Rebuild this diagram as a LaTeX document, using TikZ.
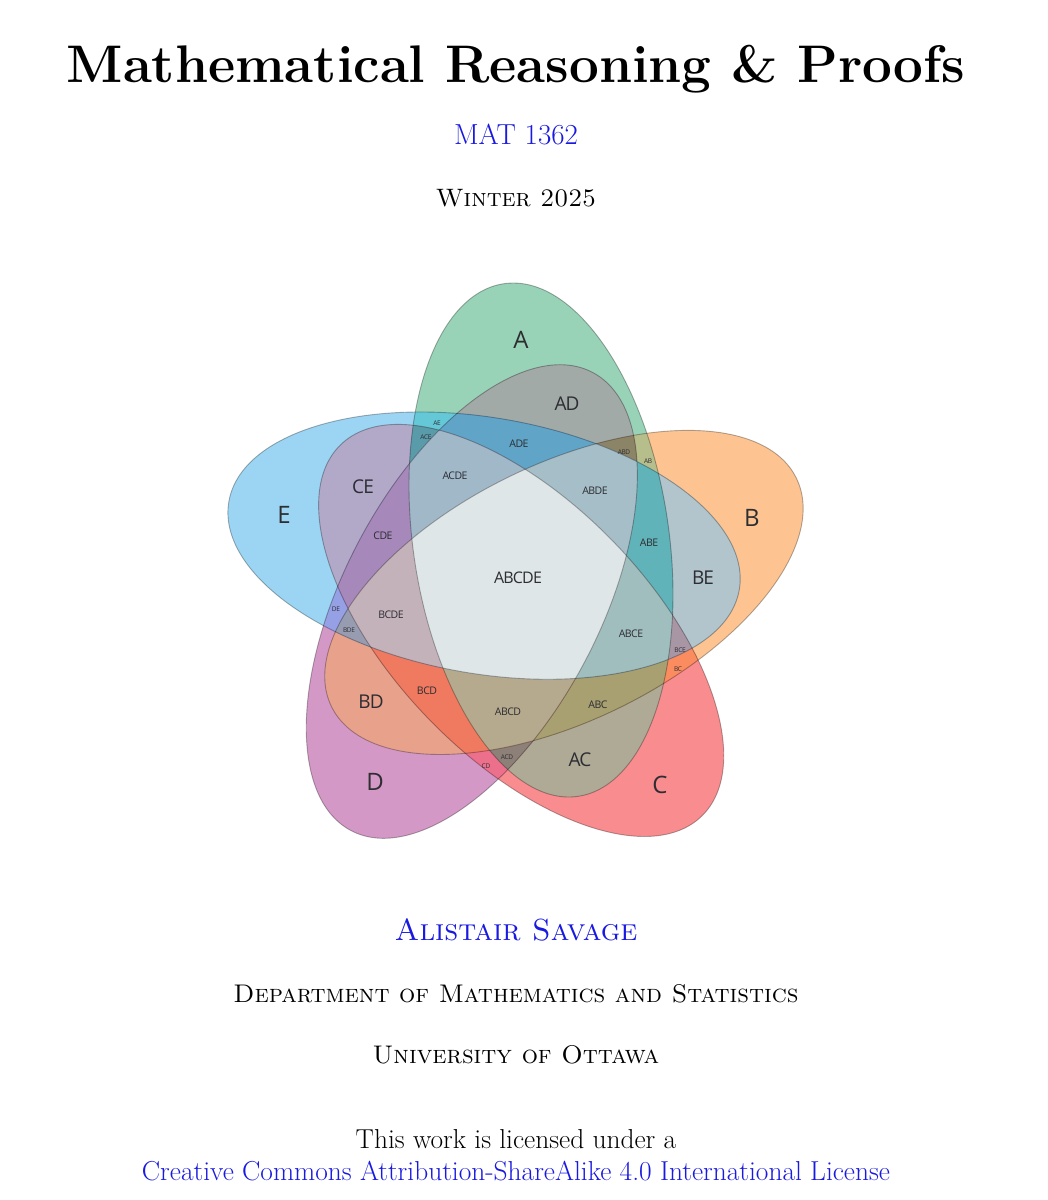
\documentclass[tikz,border=0pt]{standalone}
\usepackage{fontspec}
\newfontfamily\lblfont[LetterSpace=-5]{Open Sans}
\definecolor{linkblue}{RGB}{25,25,225}
\definecolor{lbltext}{RGB}{45,45,50}
\definecolor{cA}{RGB}{152,211,183}
\definecolor{cB}{RGB}{253,196,145}
\definecolor{cC}{RGB}{249,140,142}
\definecolor{cD}{RGB}{212,152,198}
\definecolor{cE}{RGB}{155,213,243}
\definecolor{cAB}{RGB}{182,190,140}
\definecolor{cAC}{RGB}{175,170,150}
\definecolor{cAD}{RGB}{162,170,168}
\definecolor{cAE}{RGB}{100,200,215}
\definecolor{cBC}{RGB}{250,140,95}
\definecolor{cBD}{RGB}{232,162,140}
\definecolor{cBE}{RGB}{178,196,204}
\definecolor{cCD}{RGB}{236,112,140}
\definecolor{cCE}{RGB}{178,168,200}
\definecolor{cDE}{RGB}{150,160,228}
\definecolor{cABC}{RGB}{168,160,112}
\definecolor{cABD}{RGB}{140,132,102}
\definecolor{cABE}{RGB}{96,180,185}
\definecolor{cACD}{RGB}{140,128,120}
\definecolor{cACE}{RGB}{90,155,170}
\definecolor{cADE}{RGB}{96,165,200}
\definecolor{cBCD}{RGB}{240,122,96}
\definecolor{cBCE}{RGB}{168,150,165}
\definecolor{cBDE}{RGB}{152,156,176}
\definecolor{cCDE}{RGB}{166,136,186}
\definecolor{cABCD}{RGB}{182,170,142}
\definecolor{cABCE}{RGB}{160,190,190}
\definecolor{cABDE}{RGB}{165,190,200}
\definecolor{cACDE}{RGB}{160,184,200}
\definecolor{cBCDE}{RGB}{196,178,186}
\definecolor{cABCDE}{RGB}{222,230,232}
\tikzset{
  ell/.style={rotate around={-72*#1:(516.4,-582)},rotate around={8.2:(541,-540)}},
  outl/.style={draw=black,draw opacity=0.3,line width=0.9pt},
  lblbase/.style={inner sep=0pt,text=lbltext},
  lbli/.style={lblbase,font=\lblfont\fontsize{24}{26}\selectfont},
  lblii/.style={lblbase,font=\lblfont\fontsize{19}{21}\selectfont},
  lbliii/.style={lblbase,font=\lblfont\fontsize{10.5}{12}\selectfont},
  lblv/.style={lblbase,font=\lblfont\fontsize{16}{18}\selectfont},
  lbltiny/.style={lblbase,font=\lblfont\fontsize{6.5}{7}\selectfont},
  txt/.style={anchor=base,inner sep=0pt,font=\fontsize{27.4}{32}\selectfont},
  sctxt/.style={anchor=base,inner sep=0pt,font=\fontsize{25.5}{30}\selectfont},
}
\newcommand\clipell[1]{\clip[ell=#1] (541,-540) ellipse [x radius=128, y radius=259];}
\newcommand\fillell[2]{\fill[ell=#1,fill=#2] (541,-540) ellipse [x radius=128, y radius=259];}
\newcommand\regI[2]{\fillell{#1}{#2}}
\newcommand\regII[3]{\begin{scope}\clipell{#1}\fillell{#2}{#3}\end{scope}}
\newcommand\regIII[4]{\begin{scope}\clipell{#1}\clipell{#2}\fillell{#3}{#4}\end{scope}}
\newcommand\regIV[5]{\begin{scope}\clipell{#1}\clipell{#2}\clipell{#3}\fillell{#4}{#5}\end{scope}}
\newcommand\regV[6]{\begin{scope}\clipell{#1}\clipell{#2}\clipell{#3}\clipell{#4}\fillell{#5}{#6}\end{scope}}
\begin{document}
\begin{tikzpicture}[x=1pt,y=1pt]
\useasboundingbox (0,0) rectangle (1048,-1200);
\fill[white] (0,0) rectangle (1048,-1200);
% ---- text ----
\node[txt,font=\fontsize{52.9}{60}\selectfont\bfseries] (title) at (516,-82) {Mathematical Reasoning \& Proofs};
\node[txt,text=linkblue,font=\fontsize{29}{34}\selectfont] (course) at (516,-144) {MAT 1362};
\node[sctxt,font=\fontsize{25.2}{30}\selectfont] (term) at (516,-206) {\textsc{Winter 2025}};
\node[sctxt,text=linkblue,font=\fontsize{30.5}{36}\selectfont] (author) at (516,-940) {\textsc{Alistair Savage}};
\node[sctxt] (dept) at (516,-1002) {\textsc{Department of Mathematics and Statistics}};
\node[sctxt] (univ) at (516,-1063) {\textsc{University of Ottawa}};
\node[txt] (lic1) at (516,-1148) {This work is licensed under a};
\node[txt,text=linkblue] (lic2) at (516,-1180) {Creative Commons Attribution-ShareAlike 4.0 International License};
% ---- regions: A=0 B=1 C=2 D=3 E=4 ----
\regI{0}{cA}\regI{1}{cB}\regI{2}{cC}\regI{3}{cD}\regI{4}{cE}
\regII{0}{1}{cAB}\regII{0}{2}{cAC}\regII{0}{3}{cAD}\regII{0}{4}{cAE}
\regII{1}{2}{cBC}\regII{1}{3}{cBD}\regII{1}{4}{cBE}
\regII{2}{3}{cCD}\regII{2}{4}{cCE}\regII{3}{4}{cDE}
\regIII{0}{1}{2}{cABC}\regIII{0}{1}{3}{cABD}\regIII{0}{1}{4}{cABE}
\regIII{0}{2}{3}{cACD}\regIII{0}{2}{4}{cACE}\regIII{0}{3}{4}{cADE}
\regIII{1}{2}{3}{cBCD}\regIII{1}{2}{4}{cBCE}\regIII{1}{3}{4}{cBDE}
\regIII{2}{3}{4}{cCDE}
\regIV{0}{1}{2}{3}{cABCD}\regIV{0}{1}{2}{4}{cABCE}\regIV{0}{1}{3}{4}{cABDE}
\regIV{0}{2}{3}{4}{cACDE}\regIV{1}{2}{3}{4}{cBCDE}
\regV{0}{1}{2}{3}{4}{cABCDE}
% ---- outlines ----
\draw[ell=0,outl] (541,-540) ellipse [x radius=128, y radius=259];
\draw[ell=1,outl] (541,-540) ellipse [x radius=128, y radius=259];
\draw[ell=2,outl] (541,-540) ellipse [x radius=128, y radius=259];
\draw[ell=3,outl] (541,-540) ellipse [x radius=128, y radius=259];
\draw[ell=4,outl] (541,-540) ellipse [x radius=128, y radius=259];
% ---- labels ----
\node[lbli] (lA) at (521,-340) {A};
\node[lbli] (lB) at (752,-518) {B};
\node[lbli] (lC) at (660,-785) {C};
\node[lbli] (lD) at (375,-782) {D};
\node[lbli] (lE) at (284,-515) {E};
\node[lblii] (lAD) at (567,-404) {AD};
\node[lblii] (lCE) at (363,-487) {CE};
\node[lblii] (lBE) at (703,-578) {BE};
\node[lblii] (lBD) at (371,-702) {BD};
\node[lblii] (lAC) at (580,-760) {AC};
\node[lbliii] (lADE) at (519,-444) {ADE};
\node[lbliii] (lACDE) at (455,-476) {ACDE};
\node[lbliii] (lABDE) at (595,-491) {ABDE};
\node[lbliii] (lCDE) at (383,-536) {CDE};
\node[lbliii] (lABE) at (649,-543) {ABE};
\node[lblv] (lABCDE) at (518,-578) {ABCDE};
\node[lbliii] (lBCDE) at (391,-615) {BCDE};
\node[lbliii] (lABCE) at (631,-634) {ABCE};
\node[lbliii] (lBCD) at (427,-691) {BCD};
\node[lbliii] (lABCD) at (508,-712) {ABCD};
\node[lbliii] (lABC) at (598,-705) {ABC};
\node[lbltiny] (lAE) at (437,-423) {AE};
\node[lbltiny] (lACE) at (426,-437) {ACE};
\node[lbltiny] (lABD) at (624,-452) {ABD};
\node[lbltiny] (lAB) at (648,-461) {AB};
\node[lbltiny] (lDE) at (336,-609) {DE};
\node[lbltiny] (lBDE) at (349,-630) {BDE};
\node[lbltiny] (lBCE) at (680,-650) {BCE};
\node[lbltiny] (lBC) at (678,-669) {BC};
\node[lbltiny] (lCD) at (486,-766) {CD};
\node[lbltiny] (lACD) at (507,-757) {ACD};
\end{tikzpicture}
\end{document}
